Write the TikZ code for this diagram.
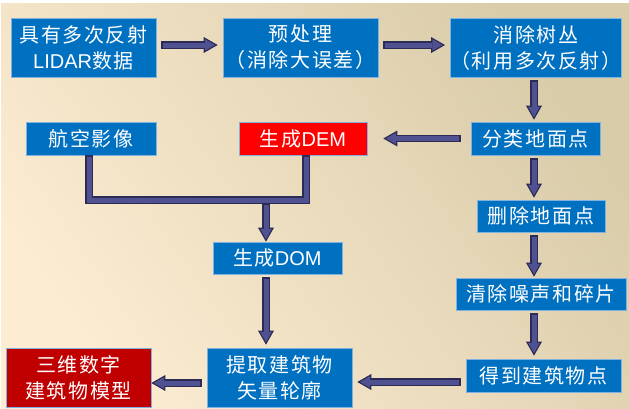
\documentclass[tikz,border=0pt]{standalone}
\usepackage{fontspec}
\setmainfont{Liberation Sans}
\newfontfamily\cjk[LetterSpace=8]{Noto Sans CJK SC}
\usetikzlibrary{arrows.meta,calc,shadings}
\definecolor{boxblue}{HTML}{0070C0}
\definecolor{boxred}{HTML}{FF0000}
\definecolor{boxdred}{HTML}{C00000}
\definecolor{boxedge}{HTML}{7FB2E0}
\definecolor{arrfill}{HTML}{4F5190}
\definecolor{arrline}{HTML}{2B2B55}
\definecolor{bgtl}{HTML}{FCECD2}
\definecolor{bgbr}{HTML}{D9CCA9}
\newcommand\barrow[2]{%
  \draw[line width=7.5pt, draw=arrline, -{Triangle[width=16pt,length=14pt,line width=0pt]}] #1 -- #2;
  \draw[line width=5pt, draw=arrfill, shorten <=1.2pt, shorten >=2.5pt, -{Triangle[width=11.7pt,length=10.25pt,line width=0pt]}] #1 -- #2;
}
\begin{document}
\begin{tikzpicture}[x=1pt,y=-1pt,
  box/.style={draw=boxedge, line width=0.7pt, fill=boxblue, text=white, inner sep=0pt,
    align=center, font=\fontsize{20}{26}\selectfont},
  tall/.style={minimum height=59pt},
  short/.style={minimum height=33pt}]
\useasboundingbox (0,0) rectangle (629,408);
\fill[white] (0,0) rectangle (629,408);
\shade[left color=bgtl, right color=bgbr, shading angle=125] (1,3) rectangle (629,408);

\node[box, tall, minimum width=145pt] (b1) at (83.5,47.5) {{\cjk 具有多次反射}\\LIDAR{\cjk 数据}};
\node[box, tall, minimum width=155pt] (b2) at (300.5,47.5) {{\cjk 预处理}\\{\cjk （消除大误差）}};
\node[box, tall, minimum width=170pt] (b3) at (536,47.5) {{\cjk 消除树丛}\\{\cjk （利用多次反射）}};
\node[box, short, minimum width=130pt] (hk) at (91,138.5) {\cjk 航空影像};
\node[box, short, minimum width=128pt, fill=boxred] (dem) at (303,138.5) {{\cjk 生成}DEM};
\node[box, short, minimum width=129pt] (fl) at (535.5,138.5) {\cjk 分类地面点};
\node[box, short, minimum width=128pt, minimum height=32pt] (sc) at (541,216) {\cjk 删除地面点};
\node[box, short, minimum width=170pt, minimum height=32pt] (qc) at (541,294) {\cjk 清除噪声和碎片};
\node[box, short, minimum width=155pt] (dd) at (543.5,375.5) {\cjk 得到建筑物点};
\node[box, short, minimum width=129pt, minimum height=32pt] (dom) at (277.5,258) {{\cjk 生成}DOM};
\node[box, tall, minimum width=145pt] (tq) at (279.5,377.5) {{\cjk 提取建筑物}\\{\cjk 矢量轮廓}};
\node[box, tall, minimum width=145pt, fill=boxdred] (sw) at (78.5,377.5) {{\cjk 三维数字}\\{\cjk 建筑物模型}};

\coordinate (col) at (534,0);
\coordinate (col2) at (266,0);
\coordinate (J) at (266,200);
\coordinate (hkb) at ($(hk.south)+(-2,0)$);
\coordinate (demb) at ($(dem.south)+(3,0)$);

% merge line
\draw[line width=7.5pt, draw=arrline, line join=miter] (hkb) |- (J) -| (demb);
\draw[line width=5pt, draw=arrfill, line join=miter, shorten <=1.2pt, shorten >=1.2pt] (hkb) |- (J) -| (demb);

\barrow{($(J)+(0,3.5)$)}{(dom.north -| col2)}
\barrow{($(dom.south -| col2)+(0,3)$)}{($(tq.north -| col2)+(0,-3)$)}

\barrow{($(b1.east)+(5,-2.5)$)}{($(b2.west)+(-5,-2.5)$)}
\barrow{($(b2.east)+(5,-2.5)$)}{($(b3.west)+(-5,-2.5)$)}
\barrow{($(b3.south -| col)+(0,3)$)}{($(fl.north -| col)+(0,-2)$)}
\barrow{($(fl.west)+(-10,0)$)}{($(dem.east)+(16,0)$)}
\barrow{($(fl.south -| col)+(0,3)$)}{($(sc.north -| col)+(0,-2)$)}
\barrow{($(sc.south -| col)+(0,3)$)}{($(qc.north -| col)+(0,-1)$)}
\barrow{($(qc.south -| col)+(0,3)$)}{($(dd.north -| col)+(0,-3)$)}
\barrow{($(dd.west)+(-5,6.5)$)}{($(tq.east)+(5,4.5)$)}
\barrow{($(tq.west)+(-5,5.5)$)}{($(sw.east)+(0,5.5)$)}
\end{tikzpicture}
\end{document}
